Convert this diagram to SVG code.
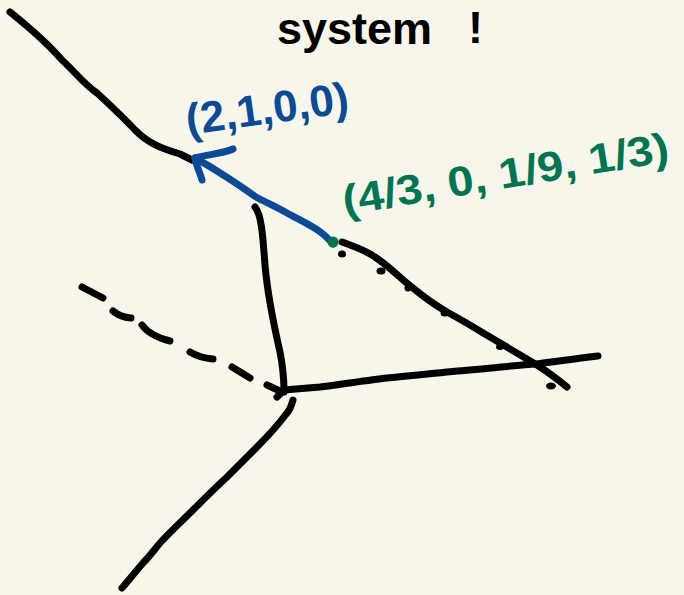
<svg xmlns="http://www.w3.org/2000/svg" width="684" height="595" viewBox="0 0 684 595">
<style>
.ink{fill:none;stroke:#000;stroke-width:7;stroke-linecap:round;stroke-linejoin:round}
.blue{fill:none;stroke:#0a4a96;stroke-width:7;stroke-linecap:round;stroke-linejoin:round}
.t{font-family:"Liberation Sans",Arial,sans-serif;font-weight:bold}
</style>
<rect width="684" height="595" fill="#f8f6ea"/>
<g id="title">
<text class="t" x="277" y="44" font-size="45" fill="#000">system</text>
<text class="t" x="468" y="43" font-size="45" fill="#000">!</text>
</g>
<g id="connectors">
<path id="upper-ray" class="ink" d="M10,12 C30,28 48,44 62,60 C75,72 85,85 97,93 C110,105 123,117 135,130 C148,143 160,148 180,154 L192,160"/>
<path id="left-edge" class="ink" d="M255,207 C262,215 263,240 265,265 C268,300 275,330 280,352 C284,372 284,382 284,392"/>
<path id="bottom-edge" class="ink" d="M284,390 L320,387 C350,383 370,380 387,378 C420,375 445,372 470,370 C500,367 520,365 537,364 C560,361 580,358 598,356"/>
<path id="hypotenuse" class="ink" d="M342,242 C355,247 365,250 375,257 C390,267 400,278 413,288 C425,298 435,305 447,312 C462,320 475,328 490,337 C505,346 520,355 537,365 C548,372 556,378 567,387"/>
<g id="hyp-dots" fill="#000">
<ellipse cx="342" cy="254" rx="4" ry="3.5"/>
<ellipse cx="381" cy="271" rx="4.5" ry="3.5"/>
<ellipse cx="408" cy="288" rx="3.5" ry="3.5"/>
<ellipse cx="445" cy="313" rx="4.5" ry="3.5"/>
<ellipse cx="500" cy="347" rx="4" ry="3"/>
<ellipse cx="551" cy="386" rx="5" ry="3.5"/>
</g>
<g id="dashed-ray" class="ink">
<path d="M82,287 L103,298"/>
<path d="M113,311 Q120,317 131,318"/>
<path d="M142,325 Q150,336 170,341"/>
<path d="M190,352 Q200,358 213,359"/>
<path d="M232,367 L250,378"/>
<path d="M267,385 L282,392"/>
<path d="M277,397 L283,391"/>
</g>
<path id="lower-ray" class="ink" d="M293,400 C291,407 289,411 287,413 C278,425 268,436 257,447 C247,457 237,467 227,477 C215,488 204,499 193,510 C182,521 170,532 160,543 C154,550 149,557 143,563 C136,571 129,580 122,588"/>
<g id="arrow">
<path class="blue" d="M333,244 C326,236 321,232 316,229 C305,222 296,218 287,213 C275,206 265,202 256,197 C246,190 236,183 228,178 C218,172 210,166 200,161 L195,158"/>
<path class="blue" d="M195,158 C208,154 222,154 233,149"/>
<path class="blue" d="M195,158 C196,166 200,172 202,180"/>
</g>
<circle id="point" cx="333" cy="242" r="5.5" fill="#007552"/>
</g>
<g id="label-blue">
<text class="t" x="188" y="135" font-size="44" fill="#0a4a96" transform="rotate(-8 188 135)">(2,1,0,0)</text>
</g>
<g id="label-green">
<text class="t" x="345" y="215" font-size="42" fill="#007552" textLength="330" lengthAdjust="spacingAndGlyphs" transform="rotate(-9.4 345 215)">(4/3, 0, 1/9, 1/3)</text>
</g>
</svg>
